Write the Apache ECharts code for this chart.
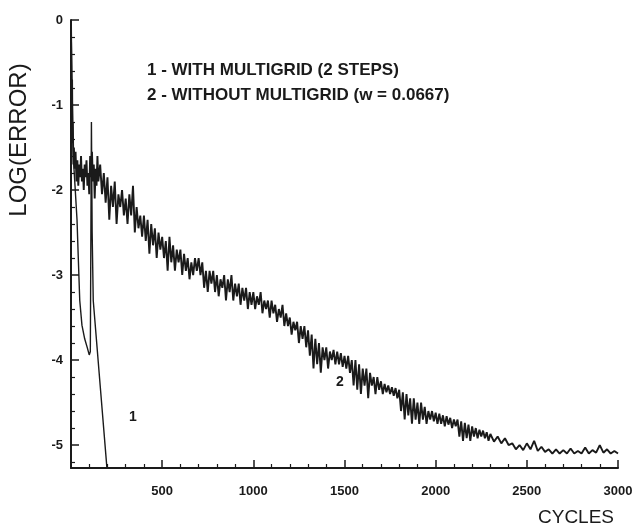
<!DOCTYPE html>
<html><head><meta charset="utf-8">
<script src="https://cdn.jsdelivr.net/npm/echarts@6/dist/echarts.min.js"></script>
<style>html,body{margin:0;padding:0;background:#fff}#c{width:637px;height:529px}</style>
</head><body><div id="c"></div>
<script>
// ---- data ----
const xMajorTicks = [0, 500, 1000, 1500, 2000, 2500, 3000];
const yMajorTicks = [-5, -4, -3, -2, -1, 0];
const yMinorTicks = [-5.2, -4.8, -4.6, -4.4, -4.2, -3.8, -3.6, -3.4, -3.2, -2.8, -2.6, -2.4, -2.2,
  -1.8, -1.6, -1.4, -1.2, -0.8, -0.6, -0.4, -0.2];
const legendLines = ['1 - WITH MULTIGRID (2 STEPS)', '2 - WITHOUT MULTIGRID (w = 0.0667)'];

// curve 1: with multigrid (2 steps)  [cycles, log(error)]
const withMultigrid = [
  [0, 0], [5, -0.7], [10, -1.3], [15, -1.7], [22, -1.95], [33, -2.35], [40, -2.8], [48, -3.3],
  [60, -3.59], [75, -3.75], [90, -3.86], [100, -3.94], [106, -3.9], [112, -1.2], [116, -2.5],
  [122, -3.3], [160, -4.3], [197, -5.27]
];

// curve 2: without multigrid  [cycles, log(error)]
const withoutMultigrid = [
  [0, 0], [2, -0.5], [4, -1.1], [6, -0.7], [8, -1.45], [10, -1.2], [13, -1.7], [16, -1.5],
  [20, -1.75], [25, -1.55], [30, -1.9], [35, -1.65], [40, -1.95], [45, -1.7], [50, -1.85],
  [55, -1.6], [60, -1.9], [65, -1.75], [70, -2.0], [75, -1.7], [80, -1.85], [85, -1.65],
  [90, -1.95], [95, -1.8], [100, -2.05], [105, -1.6], [110, -1.85], [115, -1.55], [120, -1.9],
  [125, -1.7], [130, -2.1], [135, -1.75], [140, -1.95], [145, -1.6], [150, -1.9],
  [160, -1.7], [170, -2.05], [180, -1.8], [190, -2.15], [200, -1.85], [210, -2.35], [220, -1.95],
  [230, -2.2], [240, -1.9], [250, -2.4], [260, -2.05], [270, -2.2], [280, -2.0], [290, -2.3],
  [300, -2.1], [310, -2.4], [320, -2.05], [330, -2.3], [340, -1.95], [350, -2.5], [360, -2.2],
  [370, -2.45], [380, -2.3], [390, -2.55], [400, -2.3], [410, -2.6], [420, -2.35], [430, -2.75],
  [440, -2.4], [450, -2.65], [460, -2.45], [470, -2.8], [480, -2.5], [490, -2.7], [500, -2.55],
  [510, -2.8], [520, -2.6], [530, -2.95], [540, -2.55], [550, -2.85], [560, -2.65], [570, -2.95],
  [580, -2.7], [590, -2.85], [600, -2.7], [610, -3.0], [620, -2.75], [630, -2.95], [640, -2.8],
  [650, -3.05], [660, -2.85], [670, -3.0], [680, -2.8], [690, -2.95], [700, -2.8], [710, -3.0],
  [720, -2.85], [730, -3.15], [740, -2.95], [750, -3.2], [760, -2.95], [770, -3.1], [780, -2.95],
  [790, -3.2], [800, -3.0], [810, -3.25], [820, -3.05], [830, -3.15], [840, -3.0], [850, -3.3],
  [860, -3.05], [870, -3.2], [880, -3.0], [890, -3.3], [900, -3.1], [910, -3.25], [920, -3.1],
  [930, -3.35], [940, -3.15], [950, -3.3], [960, -3.15], [970, -3.4], [980, -3.2], [990, -3.35],
  [1000, -3.2], [1010, -3.4], [1020, -3.25], [1030, -3.35], [1040, -3.2], [1050, -3.45],
  [1060, -3.3], [1070, -3.4], [1080, -3.3], [1090, -3.5], [1100, -3.3], [1110, -3.45],
  [1120, -3.35], [1130, -3.55], [1140, -3.4], [1150, -3.5], [1160, -3.35], [1170, -3.6],
  [1180, -3.45], [1190, -3.6], [1200, -3.5], [1210, -3.7], [1220, -3.55], [1230, -3.65],
  [1240, -3.55], [1250, -3.8], [1260, -3.6], [1270, -3.75], [1280, -3.6], [1290, -3.85],
  [1300, -3.65], [1310, -3.95], [1320, -3.7], [1330, -4.1], [1340, -3.75], [1350, -4.05],
  [1360, -3.8], [1370, -4.15], [1380, -3.85], [1390, -4.0], [1400, -3.85], [1410, -4.1],
  [1420, -3.9], [1430, -4.0], [1440, -3.88], [1450, -4.05], [1460, -3.9], [1470, -4.05],
  [1480, -3.92], [1490, -4.08], [1500, -3.95], [1510, -4.1], [1520, -3.95], [1530, -4.15],
  [1540, -4.0], [1550, -4.3], [1560, -4.0], [1570, -4.35], [1580, -4.05], [1590, -4.4],
  [1600, -4.1], [1610, -4.3], [1620, -4.1], [1630, -4.45], [1640, -4.15], [1650, -4.3],
  [1660, -4.2], [1670, -4.4], [1680, -4.2], [1690, -4.35], [1700, -4.25], [1710, -4.4],
  [1720, -4.28], [1730, -4.38], [1740, -4.3], [1750, -4.4], [1760, -4.32], [1770, -4.42],
  [1780, -4.33], [1790, -4.45], [1800, -4.35], [1810, -4.6], [1820, -4.38], [1830, -4.7],
  [1840, -4.4], [1850, -4.65], [1860, -4.45], [1870, -4.75], [1880, -4.45], [1890, -4.7],
  [1900, -4.5], [1910, -4.75], [1920, -4.5], [1930, -4.7], [1940, -4.55], [1950, -4.75],
  [1960, -4.6], [1970, -4.7], [1980, -4.6], [1990, -4.72], [2000, -4.62], [2010, -4.75],
  [2020, -4.63], [2030, -4.75], [2040, -4.65], [2050, -4.78], [2060, -4.66], [2070, -4.76],
  [2080, -4.68], [2090, -4.8], [2100, -4.7], [2110, -4.78], [2120, -4.7], [2130, -4.9],
  [2140, -4.72], [2150, -4.95], [2160, -4.74], [2170, -4.92], [2180, -4.76], [2190, -4.95],
  [2200, -4.78], [2210, -4.9], [2220, -4.8], [2230, -4.92], [2240, -4.82], [2250, -4.9],
  [2260, -4.83], [2270, -4.92], [2280, -4.85], [2290, -4.95], [2300, -4.87], [2320, -4.96],
  [2340, -4.9], [2360, -4.98], [2380, -4.92], [2400, -5.0], [2420, -4.98], [2440, -5.05],
  [2460, -5.0], [2480, -5.06], [2500, -4.98], [2520, -5.05], [2540, -4.95], [2560, -5.07],
  [2580, -5.02], [2600, -5.08], [2620, -5.05], [2640, -5.1], [2660, -5.05], [2680, -5.1],
  [2700, -5.06], [2720, -5.1], [2740, -5.04], [2760, -5.1], [2780, -5.07], [2800, -5.1],
  [2820, -5.03], [2840, -5.1], [2860, -5.06], [2880, -5.09], [2900, -5.0], [2920, -5.09],
  [2940, -5.05], [2960, -5.1], [2980, -5.07], [3000, -5.1]
];

// ---- chart ----
const INK = '#1a1a1a';
const chart = echarts.init(document.getElementById('c'), null, { renderer: 'canvas' });
const tickFont = { color: INK, fontSize: 13, fontWeight: 'bold', fontFamily: 'Liberation Sans, Arial, sans-serif' };

chart.setOption({
  backgroundColor: '#ffffff',
  animation: false,
  grid: { left: 71, right: 19, top: 20, bottom: 61, containLabel: false },
  xAxis: {
    type: 'value', min: xMajorTicks[0], max: xMajorTicks[xMajorTicks.length - 1], interval: 500,
    axisLine: { show: true, onZero: false, lineStyle: { color: INK, width: 2 } },
    axisTick: { show: true, inside: true, length: 8, lineStyle: { color: INK, width: 1.5 } },
    minorTick: { show: true, splitNumber: 5, length: 4, lineStyle: { color: INK, width: 1.2 } },
    splitLine: { show: false },
    axisLabel: Object.assign({ margin: 17, showMinLabel: false,
      formatter: v => (v === 0 ? '' : String(v)) }, tickFont)
  },
  yAxis: [
    {
      type: 'value', min: -5.27, max: 0, position: 'left',
      axisLine: { show: true, onZero: false, lineStyle: { color: INK, width: 2 } },
      axisTick: { show: true, inside: true, length: 8, customValues: yMajorTicks, lineStyle: { color: INK, width: 1.5 } },
      splitLine: { show: false },
      axisLabel: Object.assign({ margin: 8, customValues: yMajorTicks, formatter: v => String(v) }, tickFont)
    },
    {
      type: 'value', min: -5.27, max: 0, position: 'left',
      axisLine: { show: false, onZero: false },
      axisTick: { show: true, inside: true, length: 4, customValues: yMinorTicks, lineStyle: { color: INK, width: 1.2 } },
      splitLine: { show: false },
      axisLabel: { show: false }
    }
  ],
  series: [
    {
      name: legendLines[0], type: 'line', data: withMultigrid, yAxisIndex: 0,
      showSymbol: false, symbol: 'none', lineStyle: { color: INK, width: 1.4 }, clip: true
    },
    {
      name: legendLines[1], type: 'line', data: withoutMultigrid, yAxisIndex: 0,
      showSymbol: false, symbol: 'none', lineStyle: { color: INK, width: 1.9 }, clip: true
    }
  ],
  graphic: [
    { type: 'text', x: 147, y: 70, style: { text: legendLines[0], fill: INK, verticalAlign: 'middle',
      font: 'bold 17px "Liberation Sans", Arial, sans-serif' } },
    { type: 'text', x: 147, y: 95, style: { text: legendLines[1], fill: INK, verticalAlign: 'middle',
      font: 'bold 17px "Liberation Sans", Arial, sans-serif' } },
    { type: 'text', x: 19, y: 140, rotation: Math.PI / 2,
      style: { text: 'LOG(ERROR)', fill: INK, font: '24px "Liberation Sans", Arial, sans-serif',
      align: 'center', verticalAlign: 'middle' } },
    { type: 'text', x: 576, y: 518,
      style: { text: 'CYCLES', fill: INK, font: '19px "Liberation Sans", Arial, sans-serif',
      align: 'center', verticalAlign: 'middle' } },
    { type: 'text', x: 133, y: 417,
      style: { text: '1', fill: INK, font: 'bold 14px "Liberation Sans", Arial, sans-serif',
      align: 'center', verticalAlign: 'middle' } },
    { type: 'text', x: 340, y: 382,
      style: { text: '2', fill: INK, font: 'bold 14px "Liberation Sans", Arial, sans-serif',
      align: 'center', verticalAlign: 'middle' } }
  ]
});
</script>
</body></html>
